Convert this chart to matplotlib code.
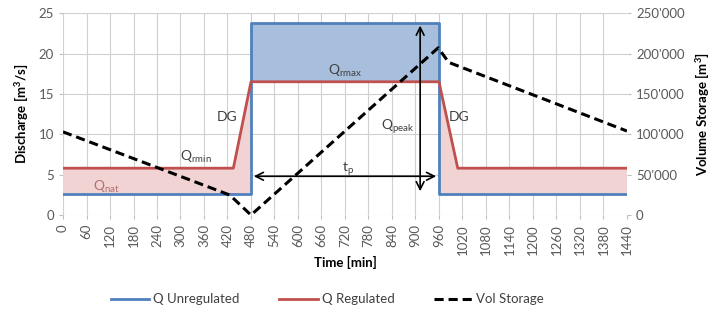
import numpy as np
import matplotlib.pyplot as plt
from matplotlib.ticker import FuncFormatter

plt.rcParams['font.family'] = ['Lato', 'DejaVu Sans']
plt.rcParams['mathtext.fontset'] = 'custom'
plt.rcParams['mathtext.rm'] = 'Lato'
plt.rcParams['mathtext.bf'] = 'Lato:bold'

# discharge series [m3/s]
t_unreg = [0, 480, 480, 960, 960, 1440]
q_unreg = [2.6, 2.6, 23.8, 23.8, 2.6, 2.6]
t_reg = [0, 435, 480, 960, 1008, 1440]
q_reg = [5.8, 5.8, 16.5, 16.5, 5.8, 5.8]

# storage volume [m3]
t_vol = [0, 426, 480, 958, 985, 1440]
vol = [103000, 24750, 0, 207000, 189000, 104000]

xticks = np.arange(0, 1441, 60)

fig = plt.figure(figsize=(7.12, 3.2), dpi=100)
ax = fig.add_axes([0.0885, 0.328, 0.792, 0.631])
ax2 = ax.twinx()

# common time grid for the shaded areas
tt = np.linspace(0, 1440, 2881)
qu = np.where((tt >= 480) & (tt <= 960), 23.8, 2.6)
qr = np.interp(tt, t_reg, q_reg)
ax.fill_between(tt, qu, qr, where=qu >= qr, color='#a7bedd', lw=0, interpolate=True)
ax.fill_between(tt, qu, qr, where=qr >= qu, color='#f2d3d3', lw=0, interpolate=True)

l1, = ax.plot(t_unreg, q_unreg, color='#4f81bd', lw=2, label='Q Unregulated')
l2, = ax.plot(t_reg, q_reg, color='#c0504d', lw=2, label='Q Regulated')
l3, = ax2.plot(t_vol, vol, color='black', lw=2.2, ls=(0, (3, 1.6)), label='Vol Storage')

ax.set_xlim(0, 1440)
ax.set_ylim(0, 25)
ax2.set_ylim(0, 250000)
ax.set_xticks(xticks)
ax.set_xticklabels([str(x) for x in xticks], rotation=90)
ax.set_yticks(np.arange(0, 26, 5))
ax2.set_yticks(np.arange(0, 250001, 50000))
ax2.yaxis.set_major_formatter(FuncFormatter(lambda v, p: f"{int(v):,}".replace(',', "'")))

ax.grid(True, color='#d0d0d0', lw=0.8)
ax.set_axisbelow(True)
for a in (ax, ax2):
    for s in a.spines.values():
        s.set_visible(False)
    a.tick_params(colors='#595959', labelsize=9.5, length=3, color='#bfbfbf')

ax.set_xlabel('Time [min]', fontweight='bold', fontsize=9.5, labelpad=1)
ax.set_ylabel(r'Discharge [m$\mathbf{^3}$/s]', fontweight='bold', fontsize=9.5, labelpad=6)
ax2.set_ylabel(r'Volume Storage [m$\mathbf{^3}$]', fontweight='bold', fontsize=9.5, labelpad=6)

# annotations
arr = dict(arrowstyle='<->', color='black', lw=1.2, mutation_scale=14)
ax.annotate('', xy=(480, 4.8), xytext=(960, 4.8), arrowprops=arr)
ax.annotate('', xy=(912, 23.8), xytext=(912, 2.6), arrowprops=arr)
tc = '#404040'
ax.text(445, 12.1, 'DG', fontsize=10, color=tc, ha='right', va='center')
ax.text(985, 12.1, 'DG', fontsize=10, color=tc, ha='left', va='center')
ax.text(340, 7.2, r'Q$_\mathrm{rmin}$', fontsize=10, color=tc, ha='center', va='center')
ax.text(720, 17.8, r'Q$_\mathrm{rmax}$', fontsize=10, color=tc, ha='center', va='center')
ax.text(855, 11.0, r'Q$_\mathrm{peak}$', fontsize=10, color=tc, ha='center', va='center')
ax.text(728, 5.7, r't$_\mathrm{p}$', fontsize=10, color=tc, ha='center', va='center')
ax.text(110, 3.5, r'Q$_\mathrm{nat}$', fontsize=10, color='#b07070', ha='center', va='center')

fig.legend(handles=[l1, l2, l3], loc='center', bbox_to_anchor=(0.46, 0.065), ncol=3,
           frameon=False, fontsize=9.5, handlelength=2.9, handletextpad=0.3,
           columnspacing=3.0, labelcolor='#404040')

fig.savefig('out.png', dpi=100)
